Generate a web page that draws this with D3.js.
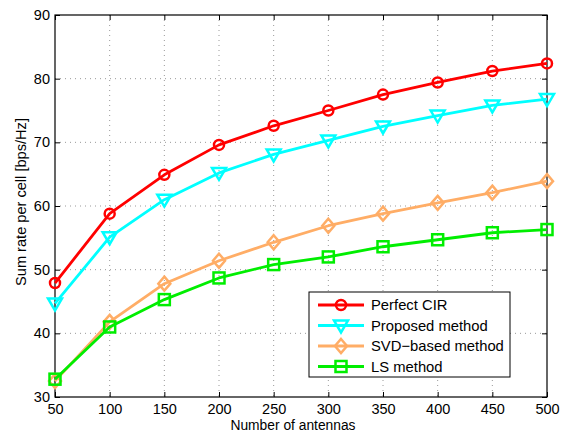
<!DOCTYPE html>
<html>
<head>
<meta charset="utf-8">
<script src="https://cdn.jsdelivr.net/npm/d3@7"></script>
<style>
  body { margin: 0; background: #fff; }
  svg { font-family: "Liberation Sans", Arial, sans-serif; }
  .grid line { stroke: #999; stroke-dasharray: 1 4; }
</style>
</head>
<body>
<svg id="chart" width="563" height="433"></svg>
<script>
const antennas = [50, 100, 150, 200, 250, 300, 350, 400, 450, 500];
const perfectCIR = [47.9, 58.8, 64.9, 69.6, 72.6, 75.0, 77.5, 79.4, 81.2, 82.4];
const proposed = [44.7, 55.1, 61.0, 65.2, 68.1, 70.3, 72.5, 74.2, 75.8, 76.8];
const svdBased = [32.5, 41.8, 47.8, 51.4, 54.3, 56.9, 58.8, 60.5, 62.1, 63.9];
const lsMethod = [32.8, 41.0, 45.3, 48.7, 50.8, 52.0, 53.6, 54.7, 55.8, 56.3];
const seriesNames = ["Perfect CIR", "Proposed method", "SVD\u2212based method", "LS method"];
const xTicks = [50, 100, 150, 200, 250, 300, 350, 400, 450, 500];
const yTicks = [30, 40, 50, 60, 70, 80, 90];

const series = [
  { name: seriesNames[0], values: perfectCIR, color: "#ff0000", marker: "circle" },
  { name: seriesNames[1], values: proposed, color: "#00ffff", marker: "triangle" },
  { name: seriesNames[2], values: svdBased, color: "#ffad66", marker: "diamond" },
  { name: seriesNames[3], values: lsMethod, color: "#00ee00", marker: "square" },
];

const margin = { top: 15, right: 16, bottom: 36, left: 55 };
const width = 563, height = 433;
const w = width - margin.left - margin.right;
const h = height - margin.top - margin.bottom;

const svg = d3.select("#chart");
const g = svg.append("g").attr("transform", "translate(" + margin.left + "," + margin.top + ")");

const x = d3.scaleLinear().domain([50, 500]).range([0, w]);
const y = d3.scaleLinear().domain([30, 90]).range([h, 0]);

// dotted grid
const grid = g.append("g").attr("class", "grid");
grid.selectAll(".gx").data(xTicks.slice(1, -1)).join("line")
  .attr("x1", d => x(d)).attr("x2", d => x(d)).attr("y1", 0).attr("y2", h);
grid.selectAll(".gy").data(yTicks.slice(1, -1)).join("line")
  .attr("y1", d => y(d)).attr("y2", d => y(d)).attr("x1", 0).attr("x2", w);

// axes with inward ticks, MATLAB style
const tickLen = 5;
const xAxis = g.append("g").attr("transform", "translate(0," + h + ")")
  .call(d3.axisBottom(x).tickValues(xTicks).tickSizeInner(-tickLen).tickSizeOuter(0).tickPadding(7));
const yAxis = g.append("g")
  .call(d3.axisLeft(y).tickValues(yTicks).tickSizeInner(-tickLen).tickSizeOuter(0).tickPadding(5));
g.append("g").call(d3.axisTop(x).tickValues(xTicks).tickSizeInner(-tickLen).tickSizeOuter(0).tickFormat(""));
g.append("g").attr("transform", "translate(" + w + ",0)")
  .call(d3.axisRight(y).tickValues(yTicks).tickSizeInner(-tickLen).tickSizeOuter(0).tickFormat(""));
g.selectAll(".domain").remove();
g.selectAll(".tick line").attr("stroke", "#000");
[xAxis, yAxis].forEach(a => a.selectAll("text").attr("font-size", 14.5).attr("fill", "#000")
  .attr("font-family", "Liberation Sans, Arial, sans-serif"));

g.append("rect").attr("width", w).attr("height", h)
  .attr("fill", "none").attr("stroke", "#000").attr("stroke-width", 1.2);

// lines and markers
const line = d3.line().x((d, i) => x(antennas[i])).y(d => y(d));

function drawMarker(sel, type, color) {
  if (type === "circle") {
    sel.append("circle").attr("r", 5);
  } else if (type === "triangle") {
    sel.append("path").attr("d", "M-7,-5L7,-5L0,7Z");
  } else if (type === "diamond") {
    sel.append("path").attr("d", "M0,-7L6,0L0,7L-6,0Z");
  } else {
    sel.append("rect").attr("x", -5.5).attr("y", -5.5).attr("width", 11).attr("height", 11);
  }
  sel.selectAll("*").attr("fill", "none").attr("stroke", color).attr("stroke-width", 2.5);
}

series.forEach(s => {
  g.append("path").datum(s.values).attr("d", line)
    .attr("fill", "none").attr("stroke", s.color).attr("stroke-width", 2.8)
    .attr("stroke-linejoin", "round");
  g.selectAll(null).data(s.values).join("g")
    .attr("transform", (d, i) => "translate(" + x(antennas[i]) + "," + y(d) + ")")
    .each(function () { drawMarker(d3.select(this), s.marker, s.color); });
});

// legend
const lg = svg.append("g").attr("transform", "translate(309,292)");
lg.append("rect").attr("width", 201).attr("height", 85)
  .attr("fill", "#fff").attr("stroke", "#000").attr("stroke-width", 1);
series.forEach((s, i) => {
  const row = lg.append("g").attr("transform", "translate(0," + (13 + i * 20.5) + ")");
  row.append("line").attr("x1", 9).attr("x2", 55)
    .attr("stroke", s.color).attr("stroke-width", 2.8);
  drawMarker(row.append("g").attr("transform", "translate(32,0)"), s.marker, s.color);
  row.append("text").attr("x", 62).attr("y", 5).attr("font-size", 14.8).text(s.name);
});

// axis titles
svg.append("text").attr("x", 293).attr("y", 430)
  .attr("text-anchor", "middle").attr("font-size", 13.8).text("Number of antennas");
svg.append("text").attr("transform", "translate(26,202) rotate(-90)")
  .attr("text-anchor", "middle").attr("font-size", 14.6).text("Sum rate per cell [bps/Hz]");
</script>
</body>
</html>
